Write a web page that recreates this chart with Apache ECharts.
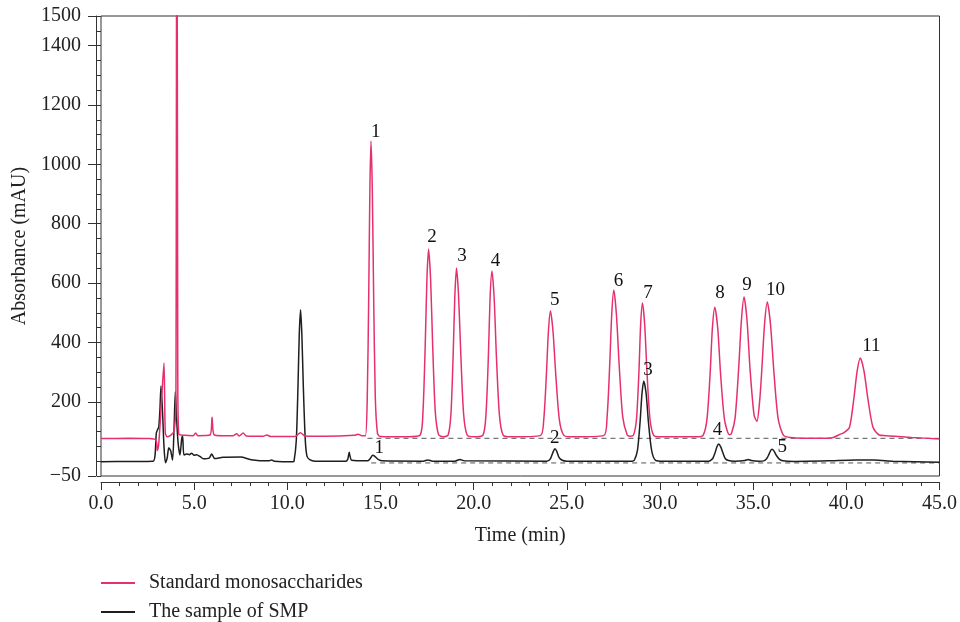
<!DOCTYPE html>
<html>
<head>
<meta charset="utf-8">
<script src="https://cdn.jsdelivr.net/npm/echarts@6/dist/echarts.min.js"></script>
<style>html,body{margin:0;padding:0;background:#fff}#c{width:960px;height:622px}</style>
</head>
<body>
<div id="c"></div>
<script>
// ---- Data ----
const stdName = 'Standard monosaccharides';
const smpName = 'The sample of SMP';

const stdTime = [0,1.5,2.6,2.95,3.02,3.1,3.25,3.38,3.45,3.55,3.75,3.92,4.02,4.07,4.12,4.17,4.5,4.95,5.08,5.2,5.85,5.96,6.06,6.5,7.1,7.28,7.42,7.63,7.8,8.7,8.9,9.1,10.4,10.7,10.95,12.0,13.6,13.8,14.0,14.19,
  14.29,14.37,14.43,14.49,14.56,14.63,14.72,14.84,15.0,16.5,17.13,
  17.28,17.40,17.49,17.58,17.69,17.80,17.94,18.12,18.4,18.63,
  18.78,18.90,18.99,19.08,19.19,19.31,19.46,19.65,20.0,20.5,
  20.66,20.79,20.88,20.98,21.10,21.22,21.38,21.58,22.0,23.58,
  23.76,23.90,24.01,24.12,24.26,24.41,24.60,24.84,25.3,26.98,
  27.16,27.30,27.41,27.52,27.66,27.81,28.00,28.24,28.4,28.58,
  28.74,28.87,28.96,29.06,29.18,29.30,29.46,29.66,30.0,32.0,32.31,
  32.52,32.69,32.81,32.94,33.10,33.25,33.46,33.72,33.83,
  34.03,34.22,34.37,34.51,34.67,34.83,35.05,35.2,
  35.35,35.46,35.61,35.76,35.93,36.11,36.34,36.63,37.0,38.5,39.3,39.64,39.88,
  40.17,40.40,40.58,40.75,40.95,41.16,41.43,41.77,42.1,43.5,45.0];
const stdAbs = [76,77,76,71,36,60,206,331,95,82,88,100,200,2600,300,92,87,86,95,86,88,148,90,86,86,92,85,95,85,84,88,83,83,96,85,84,87,91,86,86,
  217,568,915,1079,915,568,217,93,83,82,88,
  167,390,611,715,611,390,167,89,82,88,
  159,359,557,651,557,359,159,88,82,88,
  157,354,549,641,549,354,157,88,82,86,
  139,288,436,506,436,288,139,87,82,86,
  149,323,495,577,495,323,149,88,84,88,
  143,302,459,533,459,302,143,87,82,82,87,
  141,295,447,519,447,295,141,89,92,
  146,311,475,553,475,312,154,134,
  204,304,461,536,461,303,143,87,80,77,80,90,96,
  114,209,303,348,303,209,114,88,86,80,75];

const smpTime = [0,1.5,2.8,2.9,2.97,3.05,3.1,3.16,3.22,3.3,3.38,3.46,3.55,3.64,3.74,3.84,3.92,3.99,4.06,4.14,4.24,4.33,4.38,4.45,4.6,4.75,4.86,5.0,5.13,5.31,5.49,5.8,5.94,6.1,6.55,7.5,8.05,9.0,9.16,9.3,10.3,
  10.36,10.48,10.57,10.64,10.71,10.78,10.86,10.96,11.05,11.2,11.5,13.15,
  13.24,13.28,13.32,13.36,13.45,14.3,14.45,14.58,14.7,14.85,15.1,17.3,17.54,17.8,19.0,19.26,19.5,23.9,
  24.05,24.15,24.27,24.36,24.46,24.58,24.75,25.0,28.5,
  28.62,28.79,28.93,29.03,29.13,29.26,29.38,29.55,29.76,30.2,32.6,
  32.7,32.83,32.96,33.05,33.15,33.26,33.37,33.5,33.68,34.0,34.55,34.73,34.9,35.3,
  35.57,35.72,35.84,35.93,36.01,36.12,36.24,36.4,36.6,37.2,39.0,40.5,41.5,42.5,45.0];
const smpAbs = [-2,-1,0,20,95,108,115,170,253,170,50,-5,10,45,35,4,110,234,140,60,21,75,85,21,24,22,27,20,22,16,8,10,24,9,13,14,5,1,4,0,-2,
  0,69,248,426,510,426,248,75,18,5,0,0,
  6,18,30,18,3,1,9,20,16,7,1,0,4,0,0,6,1,0,
  3,12,32,42,33,13,3,0,0,
  3,36,131,225,270,225,131,36,3,0,0,
  2,9,29,48,58,48,29,9,2,0,2,6,2,0,
  1,8,22,35,40,34,20,7,1,-1,1,4,4,0,-4];

// dashed reference baselines
const stdBaseTime = [14.3, 45];
const stdBaseAbs = [77, 77];
const smpBaseTime = [14.5, 45];
const smpBaseAbs = [-6, -6];

// peak number annotations
const stdPeakText = ['1','2','3','4','5','6','7','8','9','10','11'];
const stdPeakTime = [14.75,17.77,19.38,21.17,24.35,27.77,29.36,33.22,34.67,36.20,41.34];
const stdPeakAbs  = [1110,756,691,675,543,608,568,566,594,577,389];
const smpPeakText = ['1','2','3','4','5'];
const smpPeakTime = [14.93,24.35,29.36,33.09,36.56];
const smpPeakAbs  = [45,77,307,105,47];

// axis tick labels
const yTickLabels = [-50,200,400,600,800,1000,1200,1400,1500];

// ---- Chart ----
const FONT = 'Liberation Serif';
const FS = 20;
const stdColor = '#e6306e';
const smpColor = '#1e1e1e';
const zip = (a, b) => a.map((x, i) => [x, b[i]]);
const labelData = (t, v, s) => t.map((x, i) => ({ value: [x, v[i]], name: s[i] }));
const fmtY = v => (v < 0 ? '\u2212' + Math.abs(v) : String(v));

const chart = echarts.init(document.getElementById('c'), null, { renderer: 'canvas' });
const axisColor = '#333';
const legendBase = {
  orient: 'horizontal', left: 101, padding: 0,
  itemWidth: 34, itemHeight: 2, icon: 'rect',
  textStyle: { fontFamily: FONT, fontSize: FS, color: '#222', padding: [0, 0, 0, 9] }
};
const peakLabel = {
  show: true, position: 'inside', formatter: '{b}', color: '#111', opacity: 1,
  fontSize: 19, fontFamily: FONT, textBorderWidth: 0, textBorderColor: 'transparent'
};
const option = {
  animation: false,
  backgroundColor: '#fff',
  textStyle: { fontFamily: FONT },
  grid: { left: 101, right: 20, top: 16, bottom: 146, show: true, borderColor: axisColor, borderWidth: 1 },
  legend: [
    Object.assign({}, legendBase, { data: [stdName], top: 573 }),
    Object.assign({}, legendBase, { data: [smpName], top: 602 })
  ],
  xAxis: {
    type: 'value', min: 0, max: 45, interval: 5, offset: 6,
    axisLine: { show: true, onZero: false, lineStyle: { color: axisColor, width: 1 } },
    axisTick: { show: true, length: 8, lineStyle: { color: axisColor } },
    minorTick: { show: true, splitNumber: 5, length: 4, lineStyle: { color: axisColor } },
    splitLine: { show: false },
    axisLabel: { formatter: v => v.toFixed(1), color: '#222', fontSize: FS, fontFamily: FONT, margin: 12 },
    name: 'Time (min)', nameLocation: 'middle', nameGap: 44,
    nameTextStyle: { color: '#222', fontSize: FS, fontFamily: FONT }
  },
  yAxis: [{
    type: 'value', min: -50, max: 1500, interval: 50, offset: 5,
    axisLine: { show: true, onZero: false, lineStyle: { color: axisColor, width: 1 } },
    axisTick: { show: true, length: 8, customValues: yTickLabels, lineStyle: { color: axisColor } },
    splitLine: { show: false },
    axisLabel: { customValues: yTickLabels, formatter: fmtY, color: '#222', fontSize: FS, fontFamily: FONT, margin: 15 },
    name: 'Absorbance (mAU)', nameLocation: 'middle', nameGap: 54,
    nameTextStyle: { color: '#222', fontSize: FS, fontFamily: FONT }
  }, {
    type: 'value', min: -50, max: 1500, interval: 50, offset: 5, position: 'left',
    axisLine: { show: false },
    axisTick: { show: true, length: 4, lineStyle: { color: axisColor } },
    axisLabel: { show: false },
    splitLine: { show: false }
  }],
  series: [
    { name: smpName, type: 'line', data: zip(smpTime, smpAbs), symbol: 'none', smooth: 0.25,
      lineStyle: { color: smpColor, width: 1.5 }, itemStyle: { color: smpColor }, z: 3 },
    { name: stdName, type: 'line', data: zip(stdTime, stdAbs), symbol: 'none', smooth: 0.25,
      lineStyle: { color: stdColor, width: 1.5 }, itemStyle: { color: stdColor }, z: 4 },
    { name: 'stdBase', type: 'line', data: zip(stdBaseTime, stdBaseAbs), symbol: 'none', silent: true,
      lineStyle: { color: '#555', width: 1, type: [5, 4] }, z: 2 },
    { name: 'smpBase', type: 'line', data: zip(smpBaseTime, smpBaseAbs), symbol: 'none', silent: true,
      lineStyle: { color: '#555', width: 1, type: [5, 4] }, z: 2 },
    { name: 'stdLabels', type: 'scatter', data: labelData(stdPeakTime, stdPeakAbs, stdPeakText), symbolSize: 0, silent: true,
      itemStyle: { color: '#111', opacity: 1 }, label: peakLabel, z: 5 },
    { name: 'smpLabels', type: 'scatter', data: labelData(smpPeakTime, smpPeakAbs, smpPeakText), symbolSize: 0, silent: true,
      itemStyle: { color: '#111', opacity: 1 }, label: peakLabel, z: 5 }
  ]
};
chart.setOption(option);
</script>
</body>
</html>
